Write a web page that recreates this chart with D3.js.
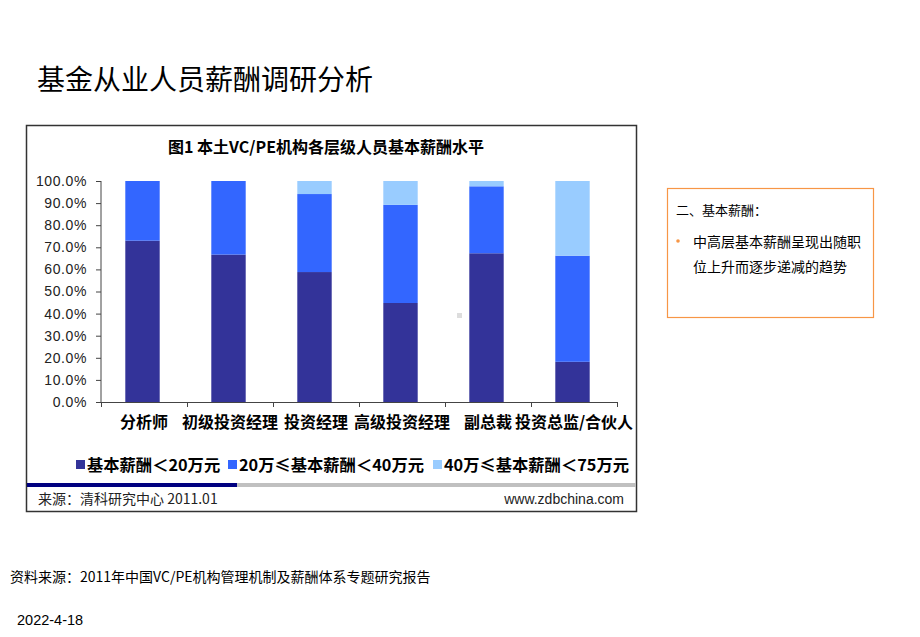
<!DOCTYPE html>
<html><head><meta charset="utf-8">
<script src="https://cdn.jsdelivr.net/npm/d3@7"></script>
<style>
body{margin:0;background:#fff;}
svg{display:block;}
</style></head>
<body>
<svg id="c" width="920" height="637"></svg>
<script>
const categories = ["分析师","初级投资经理","投资经理","高级投资经理","副总裁","投资总监/合伙人"];
const seriesNames = ["基本薪酬＜20万元","20万≤基本薪酬＜40万元","40万≤基本薪酬＜75万元"];
const below20 = [0.730, 0.667, 0.588, 0.448, 0.673, 0.182];
const from20to40 = [0.270, 0.333, 0.353, 0.444, 0.303, 0.480];
const from40to75 = [0.000, 0.000, 0.059, 0.108, 0.024, 0.338];
const yTicks = [0,0.1,0.2,0.3,0.4,0.5,0.6,0.7,0.8,0.9,1.0];
const colors = ["#333399","#3366FF","#99CCFF"];

const svg = d3.select("#c");
const CJK = "'Noto Sans CJK SC','Liberation Sans',Arial,sans-serif";
const LAT = "'Liberation Sans',Arial,'Noto Sans CJK SC',sans-serif";

// page title
svg.append("text").attr("x",37).attr("y",90).attr("font-family",CJK).attr("font-size",28)
  .attr("fill","#000").text("基金从业人员薪酬调研分析");

// chart frame
svg.append("rect").attr("x",26.5).attr("y",125.5).attr("width",610).attr("height",386)
  .attr("fill","#fff").attr("stroke","#333").attr("stroke-width",1.5);

svg.append("text").attr("x",326).attr("y",153).attr("text-anchor","middle")
  .attr("font-family",CJK).attr("font-weight","bold").attr("font-size",16).attr("fill","#000")
  .text("图1 本土VC/PE机构各层级人员基本薪酬水平");

const x = d3.scaleBand().domain(categories).range([101,617]).padding(0);
const y = d3.scaleLinear().domain([0,1]).range([402,181]);

const rows = categories.map((c,i)=>({cat:c, s0:below20[i], s1:from20to40[i], s2:from40to75[i]}));
const stack = d3.stack().keys(["s0","s1","s2"])(rows);
const bw = x.bandwidth()*0.4;

svg.append("g").selectAll("g").data(stack).join("g").attr("fill",(d,i)=>colors[i])
  .selectAll("rect").data(d=>d).join("rect")
  .attr("x",d=>x(d.data.cat)+(x.bandwidth()-bw)/2-1.5)
  .attr("width",bw)
  .attr("y",d=>y(d[1]))
  .attr("height",d=>Math.max(0,y(d[0])-y(d[1])));

// y axis
const ya = svg.append("g").attr("transform","translate(101,0)")
  .call(d3.axisLeft(y).tickValues(yTicks).tickFormat(d3.format(".1%")).tickSize(5).tickPadding(9).tickSizeOuter(0));
ya.selectAll("path,line").attr("stroke","#444");
ya.selectAll("text").attr("font-family",LAT).attr("font-size",14).attr("letter-spacing","0.6px").attr("fill","#222");
ya.select(".domain").remove();
svg.append("line").attr("x1",101).attr("x2",101).attr("y1",181).attr("y2",402).attr("stroke","#444");

// x axis
svg.append("line").attr("x1",101).attr("x2",618).attr("y1",402.5).attr("y2",402.5).attr("stroke","#444").attr("stroke-width",1.2);
const bounds = categories.map(c=>x(c)).concat([x.range()[1]]);
svg.append("g").selectAll("line").data(bounds).join("line")
  .attr("x1",d=>d+0.5).attr("x2",d=>d+0.5).attr("y1",402).attr("y2",407).attr("stroke","#444");
svg.append("g").selectAll("text").data(categories).join("text")
  .attr("x",d=>x(d)+x.bandwidth()/2).attr("y",428).attr("text-anchor","middle")
  .attr("font-family",CJK).attr("font-weight","bold").attr("font-size",16).attr("fill","#000")
  .text(d=>d);

// legend
const legX = [76,228,433];
const lg = svg.append("g").selectAll("g").data(seriesNames).join("g")
  .attr("transform",(d,i)=>`translate(${legX[i]},460)`);
lg.append("rect").attr("width",9).attr("height",9).attr("fill",(d,i)=>colors[i]);
lg.append("text").attr("x",11).attr("y",11).attr("font-family",CJK).attr("font-weight","bold")
  .attr("font-size",16.3).attr("fill","#000").text(d=>d);

// bottom band
svg.append("rect").attr("x",27).attr("y",483).attr("width",609).attr("height",4).attr("fill","#c0c0c0");
svg.append("rect").attr("x",27).attr("y",483).attr("width",210).attr("height",4).attr("fill","#000080");
svg.append("text").attr("x",38).attr("y",504).attr("font-family",CJK).attr("font-size",14).attr("fill","#222")
  .text("来源：清科研究中心 2011.01");
svg.append("text").attr("x",624).attr("y",504).attr("text-anchor","end").attr("font-family",LAT)
  .attr("font-size",14).attr("fill","#222").text("www.zdbchina.com");

// small artifact
svg.append("rect").attr("x",457).attr("y",313).attr("width",5).attr("height",5).attr("fill","#ddd");

// right note box
svg.append("rect").attr("x",667.5).attr("y",188.5).attr("width",206).attr("height",129)
  .attr("fill","#fff").attr("stroke","#F79646").attr("stroke-width",1.2);
svg.append("text").attr("x",676).attr("y",215).attr("font-family",CJK).attr("font-size",13).attr("fill","#000")
  .text("二、基本薪酬：");
svg.append("circle").attr("cx",678).attr("cy",241).attr("r",1.8).attr("fill","#F79646");
svg.append("text").attr("x",693).attr("y",247).attr("font-family",CJK).attr("font-size",14).attr("fill","#000")
  .text("中高层基本薪酬呈现出随职");
svg.append("text").attr("x",693).attr("y",272).attr("font-family",CJK).attr("font-size",14).attr("fill","#000")
  .text("位上升而逐步递减的趋势");

// footer
svg.append("text").attr("x",10).attr("y",582).attr("font-family","'Noto Sans CJK SC','Liberation Serif',serif").attr("font-size",14).attr("fill","#000")
  .text("资料来源：2011年中国VC/PE机构管理机制及薪酬体系专题研究报告");
svg.append("text").attr("x",17).attr("y",625).attr("font-family",LAT).attr("font-size",14.5).attr("fill","#000")
  .text("2022-4-18");
</script>
</body></html>
